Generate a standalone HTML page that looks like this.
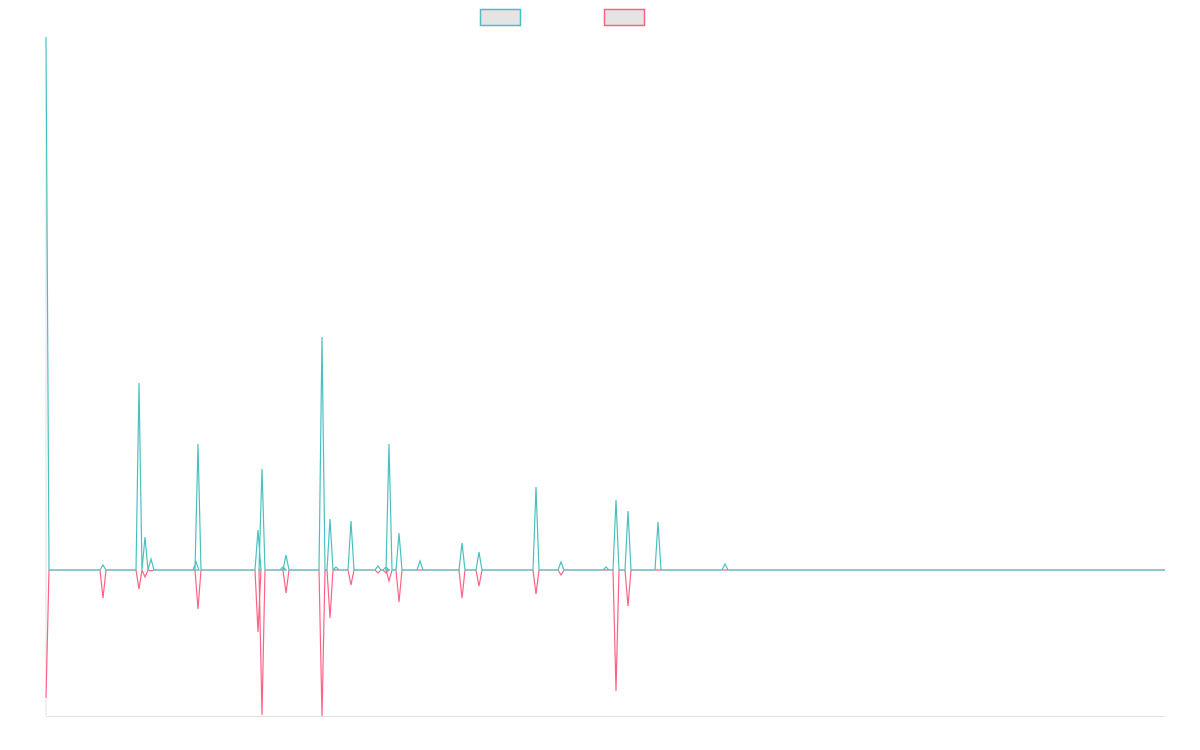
<!DOCTYPE html>
<html><head><meta charset="utf-8"><style>
html,body{margin:0;padding:0;background:#fff;width:1200px;height:750px;overflow:hidden}
</style></head><body>
<svg id="s" width="1200" height="750" xmlns="http://www.w3.org/2000/svg">
<rect x="480.5" y="9.5" width="40" height="16" fill="#e4e4e4" stroke="#4bc0c0" stroke-width="1.5"/>
<rect x="604.5" y="9.5" width="40" height="16" fill="#e4e4e4" stroke="#ff6384" stroke-width="1.5"/>
<line x1="46" y1="37" x2="46" y2="716" stroke="#e2e2e2" stroke-width="1"/>
<line x1="46" y1="716.5" x2="1165" y2="716.5" stroke="#e2e2e2" stroke-width="1"/>
<polyline id="p" fill="none" stroke="#ff6384" stroke-width="1.2"/>
<polyline id="t" fill="none" stroke="#4bc0c0" stroke-width="1.2"/>
</svg>
<script>
var B=570;
var T=[[103,565],[139,383],[145,537],[151,559],[196,562],[198,444],[258,530],[262,469],[283,567],[286,555],[322,337],[330,519],[336,567],[351,521],[378,566],[386,567],[389,444],[399,533],[420,561],[462,543],[479,552],[536,487],[561,562],[606,567],[616,500],[628,511],[658,522],[725,564]];
var P=[[103,598],[139,589],[145,577],[151,571],[198,609],[258,632],[262,715],[286,593],[322,716],[330,618],[351,585],[378,573],[386,573],[389,581],[399,602],[462,598],[479,586],[536,594],[561,575],[616,691],[628,606]];
function build(first,sp){
  var pts=[[46,first],[49,B]];
  sp.forEach(function(s){pts.push([s[0]-3,B]);pts.push([s[0],s[1]]);pts.push([s[0]+3,B]);});
  pts.push([1165,B]);
  return pts.map(function(p){return p[0]+','+p[1]}).join(' ');
}
document.getElementById('t').setAttribute('points',build(37,T));
document.getElementById('p').setAttribute('points',build(698,P));
</script>
</body></html>
